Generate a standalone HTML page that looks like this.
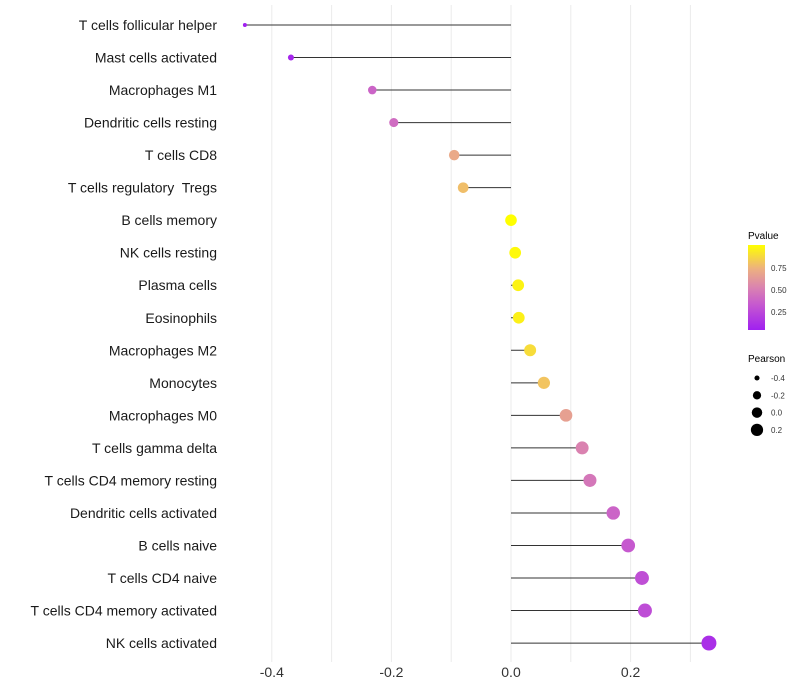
<!DOCTYPE html>
<html><head><meta charset="utf-8"><style>
body{margin:0;background:#fff;}
svg{display:block;font-family:"Liberation Sans",sans-serif;}
text{white-space:pre;}
</style></head><body>
<svg id="chart" width="800" height="700" viewBox="0 0 800 700">
<defs><linearGradient id="pgrad" x1="0" y1="1" x2="0" y2="0">
<stop offset="0" stop-color="#A020F0"/><stop offset="0.3" stop-color="#C659CF"/><stop offset="0.5" stop-color="#DA83B0"/><stop offset="0.72" stop-color="#EDB080"/><stop offset="1" stop-color="#FFFF00"/></linearGradient></defs>
<g id="grid"></g>
<g id="marks"></g>
<g id="labels"></g>
<g id="xticks"></g>
<g>
<text x="748" y="239" font-size="10" fill="#000">Pvalue</text>
<rect x="748" y="245" width="17" height="85" fill="url(#pgrad)"/>
<text x="771" y="271" font-size="8" fill="#333">0.75</text>
<text x="771" y="293" font-size="8" fill="#333">0.50</text>
<text x="771" y="315" font-size="8" fill="#333">0.25</text>
</g>
<g id="sizeLegend">
<text x="748" y="362" font-size="10" fill="#000">Pearson</text>
</g>
</svg>
<script>
const categories=["T cells follicular helper","Mast cells activated","Macrophages M1","Dendritic cells resting","T cells CD8","T cells regulatory  Tregs","B cells memory","NK cells resting","Plasma cells","Eosinophils","Macrophages M2","Monocytes","Macrophages M0","T cells gamma delta","T cells CD4 memory resting","Dendritic cells activated","B cells naive","T cells CD4 naive","T cells CD4 memory activated","NK cells activated"];
const pearson=[-0.445,-0.368,-0.232,-0.196,-0.095,-0.080,0.0,0.007,0.012,0.013,0.032,0.055,0.092,0.119,0.132,0.171,0.196,0.219,0.224,0.331];
const pvalues=[0.05,0.08,0.38,0.42,0.70,0.78,1.0,0.98,0.96,0.95,0.88,0.80,0.66,0.52,0.47,0.38,0.33,0.28,0.27,0.12];
const xTicks=[-0.4,-0.2,0.0,0.2];
const xMinor=[-0.3,-0.1,0.1,0.3];
const legendSizes=[-0.4,-0.2,0.0,0.2];
const NS="http://www.w3.org/2000/svg";
function x(v){return 511+v*598;}
function y(i){return 25+i*32.53;}
const pmin=0.046,pmax=1.0;
function rad(v){const mn=Math.min(...pearson),mx=Math.max(...pearson);const t=(v-mn)/(mx-mn);return Math.sqrt(4+t*(56-4));}
const stops=[[0,[160,32,240]],[0.3,[198,89,207]],[0.5,[218,131,176]],[0.72,[237,176,128]],[1,[255,255,0]]];
function col(p){let t=Math.max(0,Math.min(1,(p-pmin)/(pmax-pmin)));for(let k=1;k<stops.length;k++){if(t<=stops[k][0]){const a=stops[k-1],b=stops[k];const u=(t-a[0])/(b[0]-a[0]);return "rgb("+a[1].map((c,j)=>Math.round(c+(b[1][j]-c)*u)).join(",")+")";}}return "rgb(255,255,0)";}
function mk(tag,attrs,parent){const e=document.createElementNS(NS,tag);for(const k in attrs)e.setAttribute(k,attrs[k]);parent.appendChild(e);return e;}
const grid=document.getElementById('grid');
xTicks.concat(xMinor).forEach(v=>{const l=mk('line',{x1:x(v),x2:x(v),y1:5,y2:662,stroke:'#ebebeb','stroke-width':1},grid);

});
const marks=document.getElementById('marks'),labels=document.getElementById('labels');
categories.forEach((c,i)=>{
const s=mk('line',{x1:x(0),x2:x(pearson[i]),y1:y(i),y2:y(i),stroke:'#333','stroke-width':1},marks);


const p=mk('circle',{cx:x(pearson[i]),cy:y(i),r:rad(pearson[i]),fill:col(pvalues[i])},marks);


const t=mk('text',{x:217,y:y(i)+5,'text-anchor':'end','font-size':14,fill:'#1a1a1a'},labels);
t.textContent=c;


});
const xt=document.getElementById('xticks');
xTicks.forEach(v=>{const t=mk('text',{x:x(v),y:677,'text-anchor':'middle','font-size':14,fill:'#333'},xt);
t.textContent=v.toFixed(1);

});
const sl=document.getElementById('sizeLegend');
legendSizes.forEach((v,i)=>{const cy=378+i*17.3;
const c=mk('circle',{cx:757,cy:cy,r:rad(v)*0.85+0.3,fill:'#000'},sl);


const t=mk('text',{x:771,y:cy+3,'font-size':8,fill:'#333'},sl);
t.textContent=v.toFixed(1);

});
</script>
</body></html>
